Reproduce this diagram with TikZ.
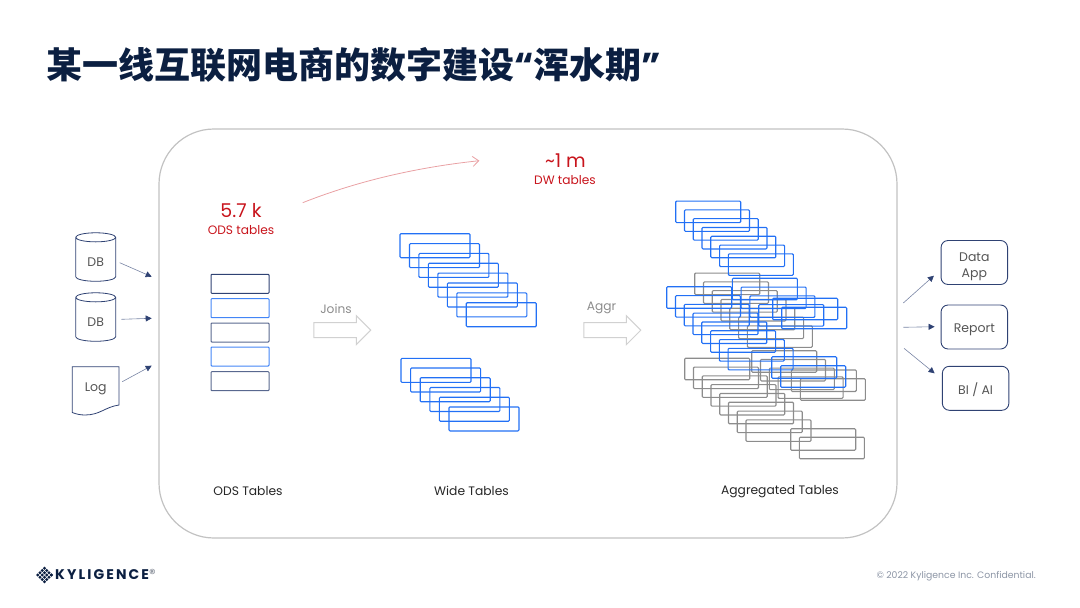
\documentclass[tikz,border=0pt]{standalone}
\usepackage{fontspec}
\usetikzlibrary{shapes.geometric,shapes.arrows,arrows.meta}
\setmainfont{Poppins}
\newfontfamily\cjkbold{Noto Sans CJK SC Black}
\newfontfamily\quotefont{Poppins}
\newfontfamily\brandfont[LetterSpace=15]{Poppins}
\definecolor{kyliginavy}{RGB}{11,31,65}
\definecolor{linknavy}{RGB}{47,66,115}
\definecolor{tableblue}{RGB}{34,112,245}
\definecolor{tablegray}{RGB}{140,140,140}
\definecolor{alertred}{RGB}{200,20,28}
\definecolor{labelgray}{RGB}{85,85,85}
\definecolor{legalgray}{RGB}{140,149,165}

\begin{document}
\begin{tikzpicture}[
        x=1pt, y=-1pt,
        lane/.style={draw=black!24, line width=1.2pt, rounded corners=55pt},
        odstable/.style={draw=linknavy, line width=1pt, rounded corners=0.8pt, minimum width=58pt, minimum height=19pt, inner sep=0pt},
        widetable/.style={draw=tableblue, line width=1.1pt, rounded corners=1pt, minimum width=70pt, minimum height=24pt, inner sep=0pt},
        aggtable/.style={draw=tableblue, line width=1.1pt, rounded corners=1pt, minimum width=65pt, minimum height=21.5pt, inner sep=0pt},
        grayagg/.style={aggtable, draw=tablegray},
        dbnode/.style={cylinder, shape border rotate=90, draw=linknavy, line width=0.8pt, aspect=0.55, minimum width=40pt, minimum height=48.5pt, inner sep=0pt, text=labelgray, font=\fontsize{12.5}{12.5}\selectfont},
        outbox/.style={draw=linknavy, line width=0.9pt, rounded corners=7pt, minimum width=66.5pt, minimum height=44pt, align=center, inner sep=0pt, text=labelgray, font=\fontsize{12.5}{16}\selectfont},
        flow/.style={-{Triangle[length=6pt,width=6pt,color=linknavy]}, draw=linknavy!65, line width=0.6pt},
        blockarrow/.style={single arrow, draw=black!18, line width=1pt, fill=white, single arrow head extend=7pt, single arrow tip angle=90, minimum height=57pt, inner ysep=7pt, inner xsep=0pt},
        redbig/.style={text=alertred, font=\fontsize{19}{19}\selectfont},
        redsmall/.style={text=alertred, font=\fontsize{12.2}{12.2}\selectfont},
        caption/.style={text=black!85, font=\fontsize{12.3}{12.3}\selectfont},
        graylabel/.style={text=black!45, font=\fontsize{12.2}{12.2}\selectfont}
    ]
        \useasboundingbox (0,0) rectangle (1080,608);

        \node[anchor=west, inner sep=0pt, text=kyliginavy, font=\cjkbold\fontsize{36}{36}\selectfont] (title) at (46,65) {某一线互联网电商的数字建设{\quotefont\bfseries “}浑水期{\quotefont\bfseries ”}};

        \draw[lane] (159,129) rectangle (897,538);

        % sources
        \node[dbnode] (dba) at (95.7,259.5) {\raisebox{-7pt}[0pt][0pt]{DB}};
        \node[dbnode] (dbb) at (95.7,319.5) {\raisebox{-7pt}[0pt][0pt]{DB}};
        \node[text=labelgray, font=\fontsize{12.5}{12.5}\selectfont, minimum width=46.7pt, minimum height=41pt, inner sep=0pt] (log) at (95.7,388.7) {Log};
        \draw[linknavy, line width=0.8pt] (72.3,412.5) -- (72.3,366.7) -- (119,366.7) -- (119,405) .. controls (105,407) and (100,415) .. (85,415) .. controls (80,415) and (76,414) .. (72.3,412.5) -- cycle;

        \coordinate (ina) at (151.7,276.7);
        \coordinate (inb) at (151.7,318.3);
        \coordinate (inc) at (151.7,365.7);
        \draw[flow] ([shift={(3.6,3.2)}]dba.east) -- (ina);
        \draw[flow] ([shift={(5.3,-0.2)}]dbb.east) -- (inb);
        \draw[flow] ([shift={(3,-7)}]log.east) -- (inc);

        % ods tables
        \node[redbig] (odsnum) at (241,211) {5.7 k};
        \node[redsmall] (odsname) at (241,230) {ODS tables};
        \node[odstable] (odsa) at (240,283.8) {};
        \node[odstable, draw=tableblue!85] (odsb) at (240,308.2) {};
        \node[odstable, draw=linknavy!80] (odsc) at (240,332.5) {};
        \node[odstable, draw=tableblue!85] (odsd) at (240,356.5) {};
        \node[odstable, draw=linknavy!80] (odse) at (240,381.2) {};

        % joins
        \node[graylabel] (joins) at (336,309) {Joins};
        \node[blockarrow] (joinsarrow) at (338.5,330.2) {};

        % wide tables
        \foreach \i in {0,...,7}
            \node[widetable] (wa\i) at ({435+9.47*\i},{245.7+9.86*\i}) {};
        \foreach \i in {0,...,5}
            \node[widetable] (wb\i) at ({436+9.6*\i},{370.3+9.73*\i}) {};

        % aggr
        \node[graylabel] (aggr) at (601.5,308.3) {Aggr};
        \node[blockarrow] (aggrarrow) at (608.5,330.2) {};

        % aggregated tables
        \foreach \i in {0,...,6}
            \node[grayagg] (ga\i) at ({727.2+8.77*\i},{283.8+8.8*\i}) {};
        \foreach \i in {0,...,7}
            \node[grayagg] (gb\i) at ({717.2+8.76*\i},{369+8.8*\i}) {};
        \foreach \i in {0,...,3}
            \node[grayagg] (gc\i) at ({784.2+8.8*\i},{361.5+8.7*\i}) {};
        \node[grayagg] (gd) at (823.8,380.7) {};
        \node[grayagg] (ge) at (832.8,389.5) {};
        \node[grayagg] (gf) at (823.2,439.5) {};
        \node[grayagg] (gg) at (831.8,448) {};
        \foreach \i in {0,...,6}
            \node[aggtable] (ba\i) at ({708.2+8.77*\i},{211.8+8.8*\i}) {};
        \foreach \i in {0,...,7}
            \node[aggtable] (bb\i) at ({699.2+8.77*\i},{297.5+8.8*\i}) {};
        \foreach \i in {0,...,3}
            \node[aggtable] (bc\i) at ({764.8+8.8*\i},{289+8.8*\i}) {};
        \node[aggtable] (bd) at (805.2,309) {};
        \node[aggtable] (be) at (814.2,318) {};
        \node[aggtable] (bf) at (804.2,367.5) {};
        \node[aggtable] (bg) at (813.2,376.5) {};

        \node[redbig] (dwnum) at (565.5,160.5) {\textasciitilde1 m};
        \node[redsmall] (dwname) at (565,180) {DW tables};

        \coordinate (growstart) at (302.7,202.7);
        \coordinate (growend) at (479.3,160.7);
        \draw[-{Straight Barb[length=6pt,width=10pt]}, draw=alertred!40, line width=0.8pt] (growstart) .. controls (360,180) and (420,167) .. (growend);

        % captions
        \node[caption] (odscap) at (248,490.5) {ODS Tables};
        \node[caption] (widecap) at (471.5,490.5) {Wide Tables};
        \node[caption] (aggcap) at (780,491.5) {Aggregated Tables};

        % consumers
        \node[outbox] (app) at (974.3,262.5) {\rule{0pt}{17pt}Data\\App};
        \node[outbox] (report) at (974.3,327) {\raisebox{-5.5pt}[0pt][0pt]{Report}};
        \node[outbox] (bi) at (975.6,388.3) {\raisebox{-6.2pt}[0pt][0pt]{BI / AI}};

        \coordinate (outa) at (903.3,303);
        \coordinate (outb) at (903.3,327.3);
        \coordinate (outc) at (904,348.3);
        \draw[flow] (outa) -- ([shift={(-6.7,13.2)}]app.west);
        \draw[flow] (outb) -- ([shift={(-6,-0.3)}]report.west);
        \draw[flow] (outc) -- ([shift={(-7.3,-15)}]bi.west);

        % footer
        \foreach \u in {-1.5,-0.5,0.5,1.5}
            \foreach \v in {-1.5,-0.5,0.5,1.5}
                \fill[kyliginavy, shift={(44.5,575)}, rotate=45] (\u*3.2-1.2,\v*3.2-1.2) rectangle (\u*3.2+1.2,\v*3.2+1.2);
        \fill[kyliginavy, shift={(51.5,575)}, rotate=45] (-1.1,-1.1) rectangle (1.1,1.1);
        \node[anchor=west, text=kyliginavy, inner sep=0pt, font=\brandfont\bfseries\fontsize{14}{14}\selectfont] (brand) at (55,575) {KYLIGENCE};
        \node[anchor=center, text=legalgray!80!black, inner sep=0pt, font=\fontsize{13}{13}\selectfont] (regmark) at (152.5,574) {®};
        \node[anchor=east, text=legalgray, inner sep=0pt, font=\fontsize{9.3}{9.3}\selectfont] (legal) at (1036,576) {© 2022 Kyligence Inc. Confidential.};
    \end{tikzpicture}
\end{document}
